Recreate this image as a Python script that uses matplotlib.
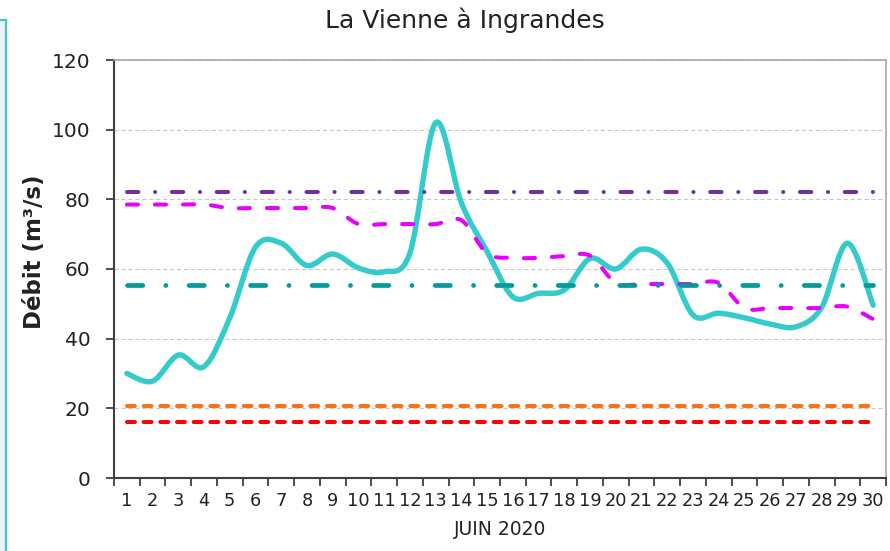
import numpy as np
import matplotlib
matplotlib.use('Agg')
from matplotlib import pyplot as plt
from matplotlib.path import Path
from matplotlib.patches import PathPatch, Rectangle
from matplotlib.lines import Line2D

# data
days = list(range(1, 31))
debit = [30, 27.8, 35.3, 32, 46, 66.3, 67.4, 61, 64.3, 60.3,
         59.2, 64.6, 102, 79, 65, 52, 53, 54, 63, 60,
         65.7, 61.7, 46.8, 47.3, 46, 44.2, 43.4, 49, 67.4, 49.6]
debit_moyen = [78.5, 78.5, 78.5, 78.5, 77.5, 77.5, 77.5, 77.5, 77.5, 72.9,
               72.9, 72.9, 72.9, 74, 64.5, 63.2, 63.2, 63.7, 63.8, 56,
               55.7, 55.7, 55.7, 56, 48.8, 48.8, 48.8, 48.8, 49.2, 45.6]
seuil_violet = 82.2
seuil_teal = 55.4
seuil_orange = 20.8
seuil_rouge = 16.2
yticks = [0, 20, 40, 60, 80, 100, 120]

plt.rcParams['lines.scale_dashes'] = False
plt.rcParams['font.family'] = 'DejaVu Sans'


def smooth_path(xs, ys):
	# excel-like smoothed line : cubic bezier, control points from neighbours
	pts = np.column_stack([xs, ys]).astype(float)
	n = len(pts)
	verts = [pts[0]]
	codes = [Path.MOVETO]
	for i in range(n - 1):
		p0 = pts[max(i - 1, 0)]
		p1 = pts[i]
		p2 = pts[i + 1]
		p3 = pts[min(i + 2, n - 1)]
		verts += [p1 + (p2 - p0) / 6, p2 - (p3 - p1) / 6, p2]
		codes += [Path.CURVE4] * 3
	return Path(verts, codes)


fig = plt.figure(figsize=(8.9, 5.51), dpi=100)
ax = fig.add_axes([114/890, 73/551, 772/890, 418/551])

# main flow, smoothed
ax.add_patch(PathPatch(smooth_path(days, debit), fill=False, edgecolor='#36CBCB',
                       lw=3.9, capstyle='round', joinstyle='round', zorder=3))
ax.add_patch(PathPatch(smooth_path(days, debit_moyen), fill=False, edgecolor='#E800FF',
                       lw=2.9, linestyle=(0, (8.0, 12.2)), capstyle='round', zorder=4))

n = len(days)
ax.plot(days, np.full(n, seuil_violet), color='#7030A0', lw=2.9,
        dashes=(8.2, 12.0, 0.1, 12.0), dash_capstyle='round', zorder=4)
ax.plot(days, np.full(n, seuil_teal), color='#009C9C', lw=3.4,
        dashes=(11.0, 16.6, 0.1, 16.6), dash_capstyle='round', zorder=4)
ax.plot(days, np.full(n, seuil_orange), color='#FF7010', lw=2.9,
        dashes=(5.7, 6.3), dash_capstyle='round', zorder=4)
ax.plot(days, np.full(n, seuil_rouge), color='#FF0000', lw=2.9,
        dashes=(5.7, 6.3), dash_capstyle='round', zorder=4)

ax.set_xlim(0.5, 30.5)
ax.set_ylim(0, 120)
ax.set_yticks(yticks)
ax.set_xticks(days)
ax.set_xticks(np.arange(0.5, 31, 1), minor=True)
ax.tick_params(axis='x', which='major', length=0, pad=10, labelsize=12.8, labelcolor='#222222')
ax.tick_params(axis='x', which='minor', length=6, width=1.3, color='#404040')
ax.tick_params(axis='y', length=6, width=1.3, color='#404040', pad=11, labelsize=14.5,
               labelcolor='#222222')
ax.grid(axis='y', color='#C8C8C8', linestyle=(0, (3, 2)), lw=0.8)
ax.set_axisbelow(True)

for s in ['left', 'bottom']:
	ax.spines[s].set_color('#404040')
	ax.spines[s].set_linewidth(1.5)
for s in ['top', 'right']:
	ax.spines[s].set_color('#A8A8A8')
	ax.spines[s].set_linewidth(1.2)

ax.set_ylabel('Débit (m³/s)', fontsize=16.5, fontweight='bold', color='#222222')
ax.yaxis.set_label_coords(-68/772, (478 - 252)/418)
ax.set_xlabel('JUIN 2020', fontsize=13.5, color='#222222', labelpad=7)
fig.text(465/890, 1 - 20/551, 'La Vienne à Ingrandes', ha='center', va='center',
         fontsize=18, color='#222222')

# frame on the far left
fig.patches.append(Rectangle((0, 0), 5/890, 1 - 20/551, transform=fig.transFigure,
                             facecolor='#F0F0FB', edgecolor='none'))
fig.lines.append(Line2D([6/890, 6/890], [0, 1 - 20/551], transform=fig.transFigure,
                        color='#40C8C8', lw=1.6))
fig.lines.append(Line2D([0, 6/890], [1 - 20/551, 1 - 20/551], transform=fig.transFigure,
                        color='#40C8C8', lw=1.6))

fig.savefig('out.png', dpi=100)
